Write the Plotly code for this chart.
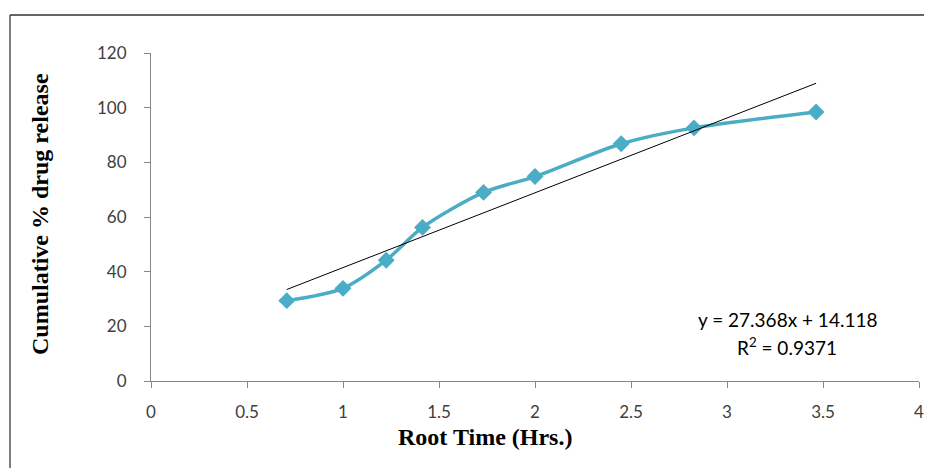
import plotly.graph_objects as go

# Data
root_time = [0.707, 1.0, 1.225, 1.414, 1.732, 2.0, 2.449, 2.828, 3.464]
cum_release = [29.4, 33.9, 44.2, 56.2, 69.0, 74.8, 86.8, 92.6, 98.4]
slope = 27.368
intercept = 14.118
r_squared = 0.9371
x_ticks = [0, 0.5, 1, 1.5, 2, 2.5, 3, 3.5, 4]
y_ticks = [0, 20, 40, 60, 80, 100, 120]

# page body has an 8px default margin; keep the figure inside the window
OFF = 8
W, H = 932 - 2 * OFF, 476 - 2 * OFF
L = 151 - OFF
T = 53 - OFF
R = W - (919 - OFF)
B = H - (381 - OFF)
pw, ph = W - L - R, H - T - B

def px(xp):
    return (xp - OFF - L) / pw

def py(yp):
    return (H - B - (yp - OFF)) / ph

teal = "#4BACC6"
tick_font = dict(family="Lato, Open Sans, sans-serif", size=17, color="#404040")

fig = go.Figure()

trend_x = [min(root_time), max(root_time)]
trend_y = [slope * v + intercept for v in trend_x]

fig.add_trace(go.Scatter(
    x=root_time, y=cum_release, mode="lines+markers",
    line=dict(color=teal, width=3.5, shape="spline", smoothing=0.8),
    marker=dict(symbol="diamond", size=13, color=teal),
    showlegend=False,
))
fig.add_trace(go.Scatter(
    x=trend_x, y=trend_y, mode="lines",
    line=dict(color="#000000", width=1),
    showlegend=False,
))

axis_common = dict(
    showgrid=False, zeroline=False, showline=True, linecolor="#868686",
    linewidth=1, ticks="outside", ticklen=6, tickcolor="#868686",
    tickfont=tick_font, ticklabeloverflow="allow", automargin=False,
)

fig.update_xaxes(range=[0, 4], tickvals=x_ticks,
                 ticktext=[f"{v:g}" for v in x_ticks], ticklabelstandoff=10,
                 **axis_common)
fig.update_yaxes(range=[0, 120], tickvals=y_ticks,
                 ticktext=[str(v) for v in y_ticks], ticklabelstandoff=14,
                 **axis_common)

title_font = dict(family="Liberation Serif, Times New Roman, serif", size=24, color="#000000")

fig.add_annotation(
    xref="paper", yref="paper", x=px(40), y=py(214), textangle=-90,
    xanchor="center", yanchor="middle",
    text="<b>Cumulative % drug release</b>", showarrow=False, font=title_font,
)
fig.add_annotation(
    xref="paper", yref="paper", x=px(485), y=py(437),
    xanchor="center", yanchor="middle",
    text="<b>Root Time (Hrs.)</b>", showarrow=False, font=title_font,
)
eq_font = dict(family="Lato, Open Sans, sans-serif", size=19, color="#000000")
fig.add_annotation(
    xref="paper", yref="paper", x=px(787), y=py(319),
    xanchor="center", yanchor="middle",
    text=f"y = {slope}x + {intercept}", showarrow=False, font=eq_font,
)
fig.add_annotation(
    xref="paper", yref="paper", x=px(787), y=py(346),
    xanchor="center", yanchor="middle",
    text=f"R<sup>2</sup> = {r_squared}", showarrow=False, font=eq_font,
)

# outer chart border (left and top edges visible)
fig.add_shape(type="line", xref="paper", yref="paper",
              x0=px(10), x1=px(10), y0=py(15), y1=py(490),
              line=dict(color="#555555", width=1.5))
fig.add_shape(type="line", xref="paper", yref="paper",
              x0=px(10), x1=px(945), y0=py(15), y1=py(15),
              line=dict(color="#333333", width=1.5))

fig.update_layout(
    width=W, height=H,
    margin=dict(l=L, r=R, t=T, b=B),
    paper_bgcolor="white", plot_bgcolor="white",
)

fig.write_html("out.html")
